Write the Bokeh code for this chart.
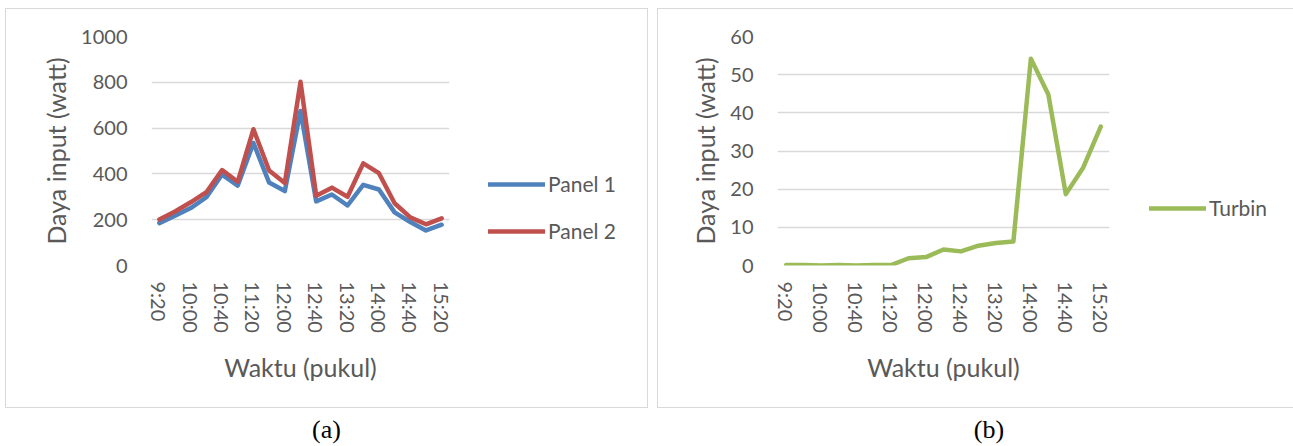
from bokeh.plotting import figure
from bokeh.models import Range1d, Legend, LegendItem, Div, SingleIntervalTicker, FixedTicker
from bokeh.layouts import row, column
from bokeh.embed import file_html
from bokeh.resources import INLINE

# ---- data ----
times = ["9:20", "9:40", "10:00", "10:20", "10:40", "11:00", "11:20", "11:40",
         "12:00", "12:20", "12:40", "13:00", "13:20", "13:40", "14:00", "14:20",
         "14:40", "15:00", "15:20"]
panel1 = [185, 217, 251, 298, 397, 349, 535, 362, 325, 675, 280, 310, 262,
          352, 332, 232, 190, 153, 178]
panel2 = [201, 236, 276, 320, 417, 366, 595, 415, 360, 802, 305, 340, 300,
          446, 403, 272, 210, 180, 206]
turbin = [0.1, 0.1, 0.0, 0.1, 0.0, 0.1, 0.1, 1.9, 2.2, 4.2, 3.7, 5.2, 5.9,
          6.3, 54.2, 44.8, 18.7, 25.7, 36.4]
x_idx = list(range(len(times)))
shown_ticks = x_idx[::2]
x_title = "Waktu (pukul)"
y_title = "Daya input (watt)"

TEXT = "#595959"
FONT = "Lato"
BLUE = "#4F81BD"
RED = "#C0504D"
GREEN = "#9BBB59"
GRID = "#D9D9D9"
H = 398


def make_fig(width, left, right, y_end, interval):
    p = figure(x_range=Range1d(-0.5, len(times) - 0.5), y_range=Range1d(0, y_end),
               width=width, height=H, min_border_left=left, min_border_right=right,
               min_border_top=27, min_border_bottom=142,
               output_backend="svg", toolbar_location=None, tools="",
               background_fill_color="white", border_fill_color="white")
    p.outline_line_color = None
    p.xgrid.visible = False
    p.ygrid.grid_line_color = GRID
    p.ygrid.grid_line_width = 1.5
    p.yaxis.ticker = SingleIntervalTicker(interval=interval, num_minor_ticks=0)
    p.xaxis.ticker = FixedTicker(ticks=shown_ticks)
    p.xaxis.major_label_overrides = {i: times[i] for i in shown_ticks}
    for ax in (p.xaxis[0], p.yaxis[0]):
        ax.axis_line_color = None
        ax.major_tick_line_color = None
        ax.minor_tick_line_color = None
        ax.major_tick_out = 0
        ax.major_tick_in = 0
        ax.major_label_text_color = TEXT
        ax.major_label_text_font = FONT
        ax.major_label_text_font_size = "20px"
        ax.axis_label_text_color = TEXT
        ax.axis_label_text_font = FONT
        ax.axis_label_text_font_size = "25px"
        ax.axis_label_text_font_style = "normal"
    p.xaxis.major_label_orientation = "vertical"
    p.xaxis.major_label_standoff = 16
    p.xaxis.axis_label_standoff = 16
    p.yaxis.major_label_standoff = 24
    p.yaxis.axis_label_standoff = 7
    p.xaxis.axis_label = x_title
    p.yaxis.axis_label = y_title
    return p


def legend_fig(width, series, loc, spacing):
    # legend-only area to the right of the chart; its lines lie outside the view
    q = figure(x_range=Range1d(-20, -10), y_range=Range1d(-20, -10), width=width, height=H,
               min_border=0, output_backend="svg", toolbar_location=None, tools="",
               background_fill_color="white", border_fill_color="white")
    q.outline_line_color = None
    q.axis.visible = False
    q.grid.visible = False
    items = []
    for label, ys, color in series:
        r = q.line(x_idx, ys, line_color=color, line_width=4.5, line_cap="round")
        items.append(LegendItem(label=label, renderers=[r]))
    lg = Legend(items=items, location=loc, padding=0, margin=0, spacing=spacing,
                glyph_width=57, glyph_height=20, label_standoff=3,
                border_line_color=None, background_fill_alpha=0,
                label_text_font=FONT, label_text_font_size="21px",
                label_text_color=TEXT)
    q.add_layout(lg)
    return q


pa = make_fig(453, 145, 10, 1000, 200)
pa.line(x_idx, panel1, line_color=BLUE, line_width=4.5, line_join="round", line_cap="round")
pa.line(x_idx, panel2, line_color=RED, line_width=4.5, line_join="round", line_cap="round")
la = legend_fig(188, [("Panel 1", panel1, BLUE), ("Panel 2", panel2, RED)], (29, 22), 22)

pb = make_fig(461, 119, 10, 60, 10)
pb.line(x_idx, turbin, line_color=GREEN, line_width=4.5, line_join="round", line_cap="round")
lb = legend_fig(174, [("Turbin", turbin, GREEN)], (30, 45), 0)

box_a = row(pa, la, margin=(8, 0, 0, 5), styles={"border": "1px solid #D9D9D9"})
box_b = row(pb, lb, margin=(8, 0, 0, 9),
            styles={"border": "1px solid #D9D9D9", "border-right": "none"})

cap_style = {"font-family": "Liberation Serif", "font-size": "26px",
             "text-align": "center", "line-height": "30px", "color": "black"}
da = Div(text="(a)", width=643, height=30, margin=(7, 0, 0, 5), styles=cap_style)
db = Div(text="(b)", width=608, height=30, margin=(7, 0, 0, 37), styles=cap_style)

layout = column(row(box_a, box_b), row(da, db))

html = file_html(layout, INLINE)
open("out.html", "w").write(html)
